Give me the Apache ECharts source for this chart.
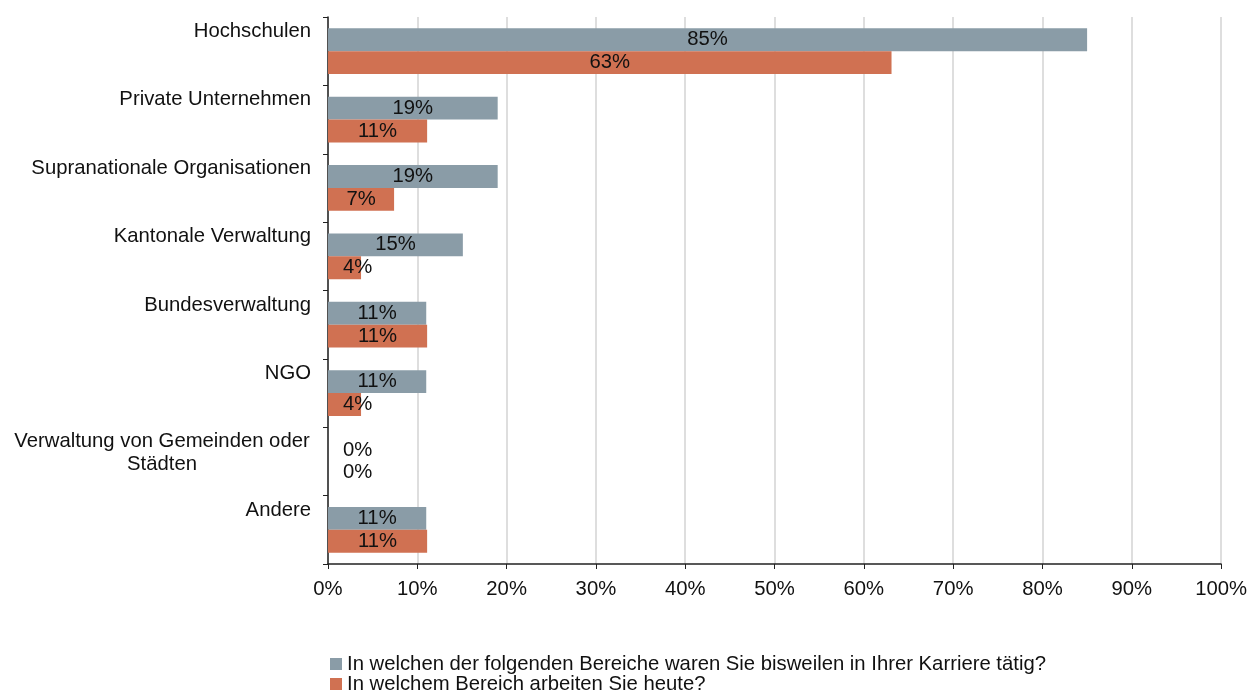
<!DOCTYPE html>
<html>
<head>
<meta charset="utf-8">
<script src="https://cdn.jsdelivr.net/npm/echarts@6/dist/echarts.min.js"></script>
<style>
  html, body { margin: 0; padding: 0; background: #fff; }
  #chart { width: 1250px; height: 690px; }
</style>
</head>
<body>
<div id="chart"></div>
<script>
// categories (top to bottom)
const categories = [
  'Hochschulen',
  'Private Unternehmen',
  'Supranationale Organisationen',
  'Kantonale Verwaltung',
  'Bundesverwaltung',
  'NGO',
  'Verwaltung von Gemeinden oder\nStädten',
  'Andere'
]
const seriesNames = [
  'In welchen der folgenden Bereiche waren Sie bisweilen in Ihrer Karriere tätig?',
  'In welchem Bereich arbeiten Sie heute?'
]
// values in percent
const everValues = [85, 19, 19, 15.1, 11, 11, 0, 11]
const todayValues = [63.1, 11.1, 7.4, 3.7, 11.1, 3.7, 0, 11.1]
const xTicks = [0, 10, 20, 30, 40, 50, 60, 70, 80, 90, 100]

const FONT = '"Liberation Sans", Arial, sans-serif'
const FS = 20.3
const colorEver = '#8A9CA7'
const colorToday = '#D07152'

const chart = echarts.init(document.getElementById('chart'))

// 小数值的标签放在柱子右侧
function barData(values) {
  return values.map(v => {
    if (v < 5) {
      return {
        value: v,
        label: { position: [15, '50%'], align: 'left', verticalAlign: 'middle' }
      }
    }
    return v
  })
}

const labelStyle = {
  show: true,
  position: 'inside',
  color: '#111',
  fontSize: FS,
  fontFamily: FONT,
  formatter: p => Math.round(p.value) + '%'
}

// 图例：每行一个
function legendRow(name, top) {
  return {
    left: 330,
    top: top,
    padding: 0,
    itemWidth: 12,
    itemHeight: 12,
    itemTextGap: 3,
    icon: 'rect',
    textStyle: { fontSize: FS, color: '#111', fontFamily: FONT },
    data: [name]
  }
}

const option = {
  animation: false,
  textStyle: { fontFamily: FONT },
  grid: { left: 328, right: 25, top: 17, bottom: 126, containLabel: false },
  legend: [legendRow(seriesNames[0], 654), legendRow(seriesNames[1], 674)],
  xAxis: {
    type: 'value',
    min: xTicks[0],
    max: xTicks[xTicks.length - 1],
    interval: 10,
    axisLine: { show: true, lineStyle: { color: '#222', width: 1.5 } },
    axisTick: { show: true, length: 5, lineStyle: { color: '#222' } },
    axisLabel: { color: '#111', fontSize: FS, fontFamily: FONT, margin: 15, formatter: '{value}%' },
    splitLine: { show: true, lineStyle: { color: '#DEDEDE', width: 2 } }
  },
  yAxis: [
    {
      // 主轴：线和刻度
      type: 'category',
      position: 'left',
      inverse: true,
      data: categories,
      axisLine: { show: true, lineStyle: { color: '#222', width: 1.5 } },
      axisTick: { show: true, length: 5, lineStyle: { color: '#222' } },
      axisLabel: { show: false }
    },
    {
      // 标签轴：标签贴在每个类别的上边界下面
      type: 'category',
      position: 'left',
      inverse: true,
      boundaryGap: false,
      data: categories.concat(['']),
      axisLine: { show: false },
      axisTick: { show: false },
      splitLine: { show: false },
      axisLabel: {
        show: true,
        interval: 0,
        margin: 17,
        align: 'right',
        verticalAlign: 'top',
        padding: [3, 0, 0, 0],
        color: '#111',
        fontSize: FS,
        lineHeight: 23,
        fontFamily: FONT,
        formatter: v => (v.indexOf('\n') >= 0 ? v.split('\n').map(s => '{c|' + s + '}').join('\n') : v),
        rich: {
          c: { width: 298, align: 'center', fontSize: FS, lineHeight: 23, color: '#111', fontFamily: FONT }
        }
      }
    }
  ],
  series: [
    {
      name: seriesNames[0],
      type: 'bar',
      yAxisIndex: 0,
      data: barData(everValues),
      itemStyle: { color: colorEver },
      barGap: '0%',
      barCategoryGap: '33%',
      label: labelStyle
    },
    {
      name: seriesNames[1],
      type: 'bar',
      yAxisIndex: 0,
      data: barData(todayValues),
      itemStyle: { color: colorToday },
      barGap: '0%',
      barCategoryGap: '33%',
      label: labelStyle
    }
  ]
}

chart.setOption(option)
</script>
</body>
</html>
